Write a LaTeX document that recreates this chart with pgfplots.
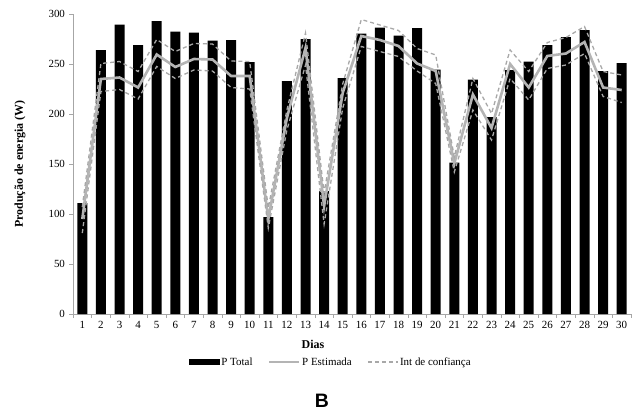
\documentclass[border=0pt]{standalone}
\usepackage{pgfplots}
\pgfplotsset{compat=1.18}
\usepackage{fontspec}
\setmainfont{Liberation Serif}
\newfontfamily\sansB{Liberation Sans}
\definecolor{axgray}{HTML}{A6A6A6}
\definecolor{estgray}{HTML}{B4B4B4}
\definecolor{cigray}{HTML}{A8A8A8}
\begin{document}
\begin{tikzpicture}[x=1bp,y=1bp]
\path[use as bounding box] (-73,-100) rectangle (565,314);
\begin{axis}[
  at={(0,0)}, anchor=origin,
  scale only axis, width=558bp, height=300bp,
  xmin=0.5, xmax=30.5, ymin=0, ymax=300,
  axis x line=bottom, axis y line=left,
  axis line style={axgray, line width=0.8pt, -},
  xtick={1,...,30},
  major x tick style={draw=none},
  minor xtick={0.5,1.5,...,30.5},
  minor x tick style={axgray, line width=0.6pt},
  minor tick length=3.5bp,
  ytick={0,50,...,300},
  major y tick style={axgray, line width=0.6pt},
  major tick length=3.5bp,
  tick align=outside,
  tick label style={font=\fontsize{11}{13}\selectfont},
  /pgf/number format/assume math mode=true,
  yticklabel style={xshift=-1bp},
  xticklabel style={yshift=0bp},
  legend style={draw=none, fill=none, at={(rel axis cs:0.4615,-0.16)}, anchor=center,
    legend columns=3, font=\fontsize{11}{13}\selectfont,
    nodes={inner xsep=1.5bp},
    /tikz/every even column/.append style={column sep=14bp}},
  legend image code/.code={\draw[#1] (0bp,0bp) -- (30bp,0bp);},
]
\addplot[ybar, bar width=10bp, fill=black, draw=none, bar shift=0pt,
  legend image code/.code={\fill[black] (0bp,-3bp) rectangle (31bp,3bp);}]
coordinates {
(1,111) (2,264) (3,289.5) (4,269) (5,293) (6,282.5) (7,281.5) (8,273.5) (9,274) (10,252)
(11,97) (12,233) (13,275) (14,123) (15,236) (16,280.5) (17,286.5) (18,278.5) (19,286) (20,244.5)
(21,151.5) (22,234.5) (23,197) (24,244) (25,252.5) (26,269) (27,277) (28,284) (29,243) (30,251)
};
\addlegendentry{P Total}
\addplot[estgray, line width=2.6bp] coordinates {
(1,95) (2,235) (3,236.5) (4,226.5) (5,259.5) (6,247) (7,255) (8,254.5) (9,238) (10,238)
(11,95) (12,196) (13,266) (14,108) (15,221) (16,278) (17,274) (18,268) (19,250.5) (20,243)
(21,150.5) (22,219.5) (23,186) (24,250) (25,226.5) (26,258) (27,260.5) (28,272) (29,226.5) (30,224)
};
\addlegendentry{P Estimada}
\addplot[cigray, line width=1.3bp, dash pattern=on 4bp off 3bp] coordinates {
(1,107) (2,250.5) (3,252.5) (4,242.5) (5,274.5) (6,262.5) (7,270.5) (8,270) (9,253) (10,252.5)
(11,106) (12,204) (13,281) (14,121) (15,230) (16,294.5) (17,289) (18,283.5) (19,265.5) (20,259)
(21,157) (22,235.5) (23,200.5) (24,264) (25,242.5) (26,271.5) (27,276.5) (28,287.5) (29,242.5) (30,239)
};
\addlegendentry{Int de confiança}
\addplot[cigray, line width=1.3bp, dash pattern=on 4bp off 3bp, forget plot] coordinates {
(1,81) (2,222.5) (3,224.5) (4,215) (5,247.5) (6,235.5) (7,244) (8,243) (9,226.5) (10,225)
(11,86) (12,184) (13,249) (14,90) (15,206) (16,267.5) (17,262.5) (18,257.5) (19,243) (20,230.5)
(21,142) (22,204) (23,174) (24,235.5) (25,214) (26,245.5) (27,249) (28,260.5) (29,217.5) (30,211.5)
};
\end{axis}
\node[rotate=90, font=\fontsize{12}{14}\selectfont\bfseries] at (-53,150) {Produção de energia (W)};
\node[font=\fontsize{12}{14}\selectfont\bfseries] at (240,-30) {Dias};
\node[font=\sansB\fontsize{19.5}{22}\selectfont\bfseries] at (249,-87) {B};
\end{tikzpicture}
\end{document}
